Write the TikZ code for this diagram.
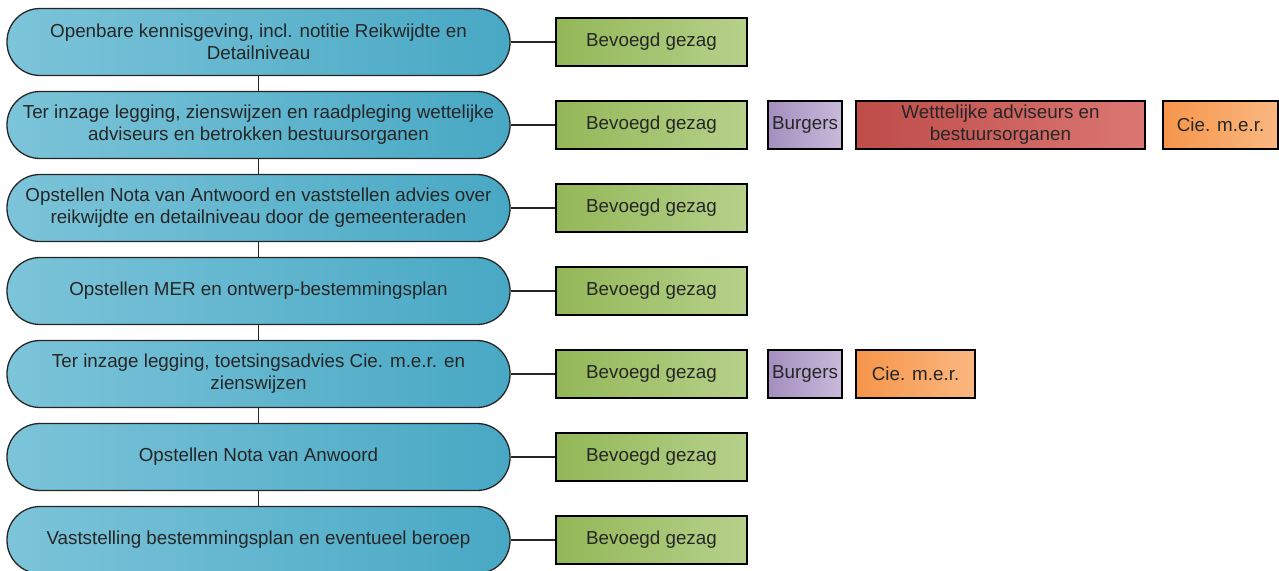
\documentclass[tikz,border=0pt]{standalone}
\usepackage{fontspec}
\setmainfont{Liberation Sans}
\usetikzlibrary{positioning}

\definecolor{pillLight}{HTML}{7CC4D9}
\definecolor{pillDark}{HTML}{48A8C4}
\definecolor{govLight}{HTML}{B6D18B}
\definecolor{govDark}{HTML}{93B757}
\definecolor{citLight}{HTML}{C8BADA}
\definecolor{citDark}{HTML}{A48EBF}
\definecolor{advLight}{HTML}{DB7773}
\definecolor{advDark}{HTML}{BE4C49}
\definecolor{merLight}{HTML}{FAB881}
\definecolor{merDark}{HTML}{F6954A}
\definecolor{inkGray}{HTML}{262626}

\begin{document}
\begin{tikzpicture}[x=1pt, y=-1pt,
    phase/.style={draw=inkGray, line width=1.3pt, rounded corners=33pt,
        left color=pillLight, right color=pillDark,
        minimum width=503pt, minimum height=67pt, inner sep=0pt,
        align=center, text=inkGray, font=\fontsize{18.8}{22}\selectfont},
    party/.style={draw=black, line width=1.3pt, minimum height=48pt,
        inner sep=0pt, align=center, text=inkGray,
        font=\fontsize{18.8}{22}\selectfont},
    gov/.style={party, left color=govDark, right color=govLight, minimum width=191pt},
    citizens/.style={party, left color=citDark, right color=citLight, minimum width=74pt},
    advisors/.style={party, left color=advDark, right color=advLight, minimum width=289pt},
    cmer/.style={party, left color=merDark, right color=merLight},
    link/.style={draw=inkGray, line width=1.3pt}]

\useasboundingbox (0,0) rectangle (1279,570);

% Phases
\node[phase] (p1) at (258.5, 42) {Openbare kennisgeving, incl. notitie Reikwijdte en\\Detailniveau};
\node[phase] (p2) at (258.5, 125) {Ter inzage legging, zienswijzen en raadpleging wettelijke\\adviseurs en betrokken bestuursorganen};
\node[phase] (p3) at (258.5, 208) {Opstellen Nota van Antwoord en vaststellen advies over\\reikwijdte en detailniveau door de gemeenteraden};
\node[phase] (p4) at (258.5, 291) {Opstellen MER en ontwerp-bestemmingsplan};
\node[phase] (p5) at (258.5, 374) {Ter inzage legging, toetsingsadvies Cie. m.e.r. en\\zienswijzen};
\node[phase] (p6) at (258.5, 457) {Opstellen Nota van Anwoord};
\node[phase] (p7) at (258.5, 540) {Vaststelling bestemmingsplan en eventueel beroep};

% Competent authority
\node[gov] (g1) at (651.5, 42) {Bevoegd gezag};
\node[gov] (g2) at (651.5, 125) {Bevoegd gezag};
\node[gov] (g3) at (651.5, 208) {Bevoegd gezag};
\node[gov] (g4) at (651.5, 291) {Bevoegd gezag};
\node[gov] (g5) at (651.5, 374) {Bevoegd gezag};
\node[gov] (g6) at (651.5, 457) {Bevoegd gezag};
\node[gov] (g7) at (651.5, 540) {Bevoegd gezag};

% Other parties
\node[citizens] (b2) at (805, 125) {Burgers};
\node[advisors] (a2) at (1000.5, 125) {Wetttelijke adviseurs en\\bestuursorganen};
\node[cmer, minimum width=115pt] (c2) at (1220.5, 125) {Cie. m.e.r.};
\node[citizens] (b5) at (805, 374) {Burgers};
\node[cmer, minimum width=119pt] (c5) at (915.5, 374) {Cie. m.e.r.};

% Sequence
\draw[link] (p1) -- (p2);
\draw[link] (p2) -- (p3);
\draw[link] (p3) -- (p4);
\draw[link] (p4) -- (p5);
\draw[link] (p5) -- (p6);
\draw[link] (p6) -- (p7);

% Phase to authority
\draw[link] (p1) -- (g1);
\draw[link] (p2) -- (g2);
\draw[link] (p3) -- (g3);
\draw[link] (p4) -- (g4);
\draw[link] (p5) -- (g5);
\draw[link] (p6) -- (g6);
\draw[link] (p7) -- (g7);

\end{tikzpicture}
\end{document}
